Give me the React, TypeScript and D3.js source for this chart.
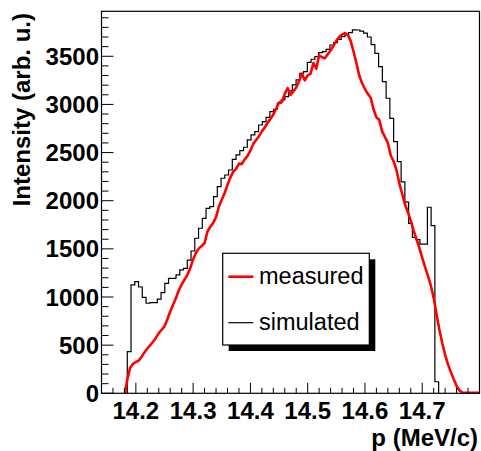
import React from "react";
import * as d3 from "d3";

// ---- Data ----
// Simulated histogram: bin edges start / width and bin contents
const simStart = 14.185;
const simBinWidth = 0.00655;
const simulatedCounts = [
  432, 1125, 1159, 1104, 997, 935, 941, 941, 979, 1045,
  1142, 1194, 1194, 1229, 1281, 1298, 1384, 1478, 1610, 1714,
  1817, 1921, 1938, 2042, 2146, 2233, 2267, 2319, 2430, 2475,
  2520, 2555, 2631, 2683, 2717, 2786, 2821, 2866, 2925, 2950,
  3012, 3046, 3080, 3140, 3202, 3254, 3323, 3340, 3437, 3469,
  3496, 3537, 3548, 3572, 3617, 3641, 3676, 3704, 3721, 3745,
  3775, 3773, 3762, 3740, 3700, 3620, 3531, 3392, 3236, 3064,
  2856, 2613, 2405, 2195, 1985, 1765, 1620, 1595, 1550, 1550,
  1932, 1742, 120,
];

// Measured curve
const measuredP = [
  14.181, 14.185, 14.19, 14.195, 14.2, 14.205, 14.21, 14.215, 14.22, 14.225,
  14.23, 14.235, 14.24, 14.245, 14.25, 14.255, 14.26, 14.265, 14.27, 14.275,
  14.28, 14.285, 14.29, 14.295, 14.3, 14.305, 14.31, 14.315, 14.32, 14.325,
  14.33, 14.335, 14.34, 14.345, 14.35, 14.355, 14.36, 14.365, 14.37, 14.375,
  14.38, 14.385, 14.39, 14.395, 14.4, 14.405, 14.41, 14.415, 14.42, 14.425,
  14.43, 14.435, 14.44, 14.445, 14.45, 14.455, 14.46, 14.465, 14.47, 14.475,
  14.48, 14.485, 14.49, 14.495, 14.5, 14.505, 14.51, 14.515, 14.52, 14.525,
  14.53, 14.535, 14.54, 14.545, 14.55, 14.555, 14.56, 14.565, 14.57, 14.575,
  14.58, 14.585, 14.59, 14.595, 14.6, 14.605, 14.61, 14.615, 14.62, 14.625,
  14.63, 14.635, 14.64, 14.645, 14.65, 14.655, 14.66, 14.665, 14.67, 14.675,
  14.68, 14.685, 14.69, 14.695, 14.7, 14.705, 14.71, 14.715, 14.72, 14.725,
  14.73, 14.735, 14.74, 14.745, 14.75, 14.755, 14.76, 14.765, 14.77, 14.775,
  14.78, 14.79, 14.8,
];
const measuredI = [
  0, 140, 265, 305, 325, 340, 380, 425, 465, 500,
  535, 575, 625, 660, 695, 770, 850, 920, 990, 1070,
  1130, 1180, 1230, 1300, 1390, 1460, 1505, 1530, 1560, 1680,
  1730, 1770, 1830, 1940, 2010, 2080, 2165, 2240, 2300, 2330,
  2385, 2380, 2430, 2465, 2520, 2590, 2630, 2670, 2720, 2760,
  2810, 2850, 2895, 2955, 3020, 3025, 3110, 3170, 3100, 3135,
  3175, 3240, 3320, 3250, 3300, 3320, 3430, 3370, 3510, 3490,
  3480, 3520, 3560, 3610, 3660, 3700, 3725, 3740, 3725, 3660,
  3550, 3430, 3300, 3220, 3160, 3110, 3070, 2950, 2865, 2840,
  2720, 2660, 2600, 2470, 2410, 2320, 2180, 2070, 1960, 1880,
  1790, 1690, 1600, 1510, 1410, 1310, 1220, 1120, 990, 820,
  660, 520, 400, 300, 220, 145, 75, 30, 8, 5,
  5, 5, 5,
];

const xTickValues = [14.2, 14.3, 14.4, 14.5, 14.6, 14.7];
const yTickValues = [0, 500, 1000, 1500, 2000, 2500, 3000, 3500];
const legendLabels = ["measured", "simulated"];

const W = 481;
const H = 451;
const left = 101.5;
const right = 479.5;
const top = 11.3;
const bottom = 393.3;

export default function App() {
  const x = d3.scaleLinear().domain([14.14, 14.8]).range([left, right]);
  const y = d3.scaleLinear().domain([0, 3967]).range([bottom, top]);

  // simulated histogram step path
  let simPath = `M${x(simStart)},${y(0)}`;
  simulatedCounts.forEach((c, i) => {
    const x0 = x(simStart + i * simBinWidth);
    const x1 = x(simStart + (i + 1) * simBinWidth);
    simPath += `L${x0},${y(c)}L${x1},${y(c)}`;
  });
  simPath += `L${x(simStart + simulatedCounts.length * simBinWidth)},${y(0)}`;

  const measLine = d3
    .line<number>()
    .x((_, i) => x(measuredP[i]))
    .y((d) => y(d))(measuredI) as string;

  const xMinor = d3.range(14.14, 14.8001, 0.02);
  const yMinor = d3.range(0, 3967, 100);

  const font = "'Liberation Sans', Arial, Helvetica, sans-serif";

  return (
    <svg
      width={W}
      height={H}
      style={{ position: "absolute", left: 0, top: 0, background: "#fff" }}
      fontFamily={font}
    >
      <rect x={0} y={0} width={W} height={H} fill="#fff" />
      <clipPath id="plotclip">
        <rect x={left} y={top} width={right - left} height={bottom - top} />
      </clipPath>

      <g clipPath="url(#plotclip)">
        <path d={simPath} fill="none" stroke="#000" strokeWidth={1.2} />
        <path
          d={measLine}
          fill="none"
          stroke="#ff0000"
          strokeWidth={2.6}
          strokeLinejoin="round"
        />
      </g>

      {/* frame */}
      <rect
        x={left}
        y={top}
        width={right - left}
        height={bottom - top}
        fill="none"
        stroke="#000"
        strokeWidth={1.2}
      />

      {/* y ticks */}
      {yMinor.map((v) => {
        const major = v % 500 === 0;
        return (
          <line
            key={"ym" + v}
            x1={left}
            x2={left + (major ? 12 : 7)}
            y1={y(v)}
            y2={y(v)}
            stroke="#000"
            strokeWidth={1}
          />
        );
      })}
      {yTickValues.map((v) => (
        <text
          key={"yl" + v}
          x={99}
          y={y(v) + 8.6}
          textAnchor="end"
          fontSize={24}
          fontWeight="bold"
        >
          {v}
        </text>
      ))}

      {/* x ticks */}
      {xMinor.map((v, i) => {
        const major = Math.abs(Math.round(v * 10) / 10 - v) < 1e-6;
        return (
          <line
            key={"xm" + i}
            x1={x(v)}
            x2={x(v)}
            y1={bottom}
            y2={bottom - (major ? 10.5 : 5.5)}
            stroke="#000"
            strokeWidth={1}
          />
        );
      })}
      {xTickValues.map((v) => (
        <text
          key={"xl" + v}
          x={x(v)}
          y={418.5}
          textAnchor="middle"
          fontSize={24}
          fontWeight="bold"
        >
          {v.toFixed(1)}
        </text>
      ))}

      {/* axis titles */}
      <text
        x={478}
        y={446}
        textAnchor="end"
        fontSize={24}
        fontWeight="bold"
      >
        p (MeV/c)
      </text>
      <text
        transform="translate(30,13) rotate(-90)"
        textAnchor="end"
        fontSize={24}
        fontWeight="bold"
      >
        Intensity (arb. u.)
      </text>

      {/* legend */}
      <rect x={228.7} y={259.3} width={146.6} height={91.7} fill="#000" />
      <rect
        x={222.7}
        y={253.3}
        width={146.6}
        height={91.7}
        fill="#fff"
        stroke="#000"
        strokeWidth={1.2}
      />
      <line x1={228.3} x2={253.3} y1={276.7} y2={276.7} stroke="#ff0000" strokeWidth={2.6} />
      <text x={259} y={284} fontSize={23.5}>
        {legendLabels[0]}
      </text>
      <line x1={228.3} x2={253.3} y1={322.7} y2={322.7} stroke="#000" strokeWidth={1.2} />
      <text x={259} y={329.5} fontSize={23.5}>
        {legendLabels[1]}
      </text>
    </svg>
  );
}
